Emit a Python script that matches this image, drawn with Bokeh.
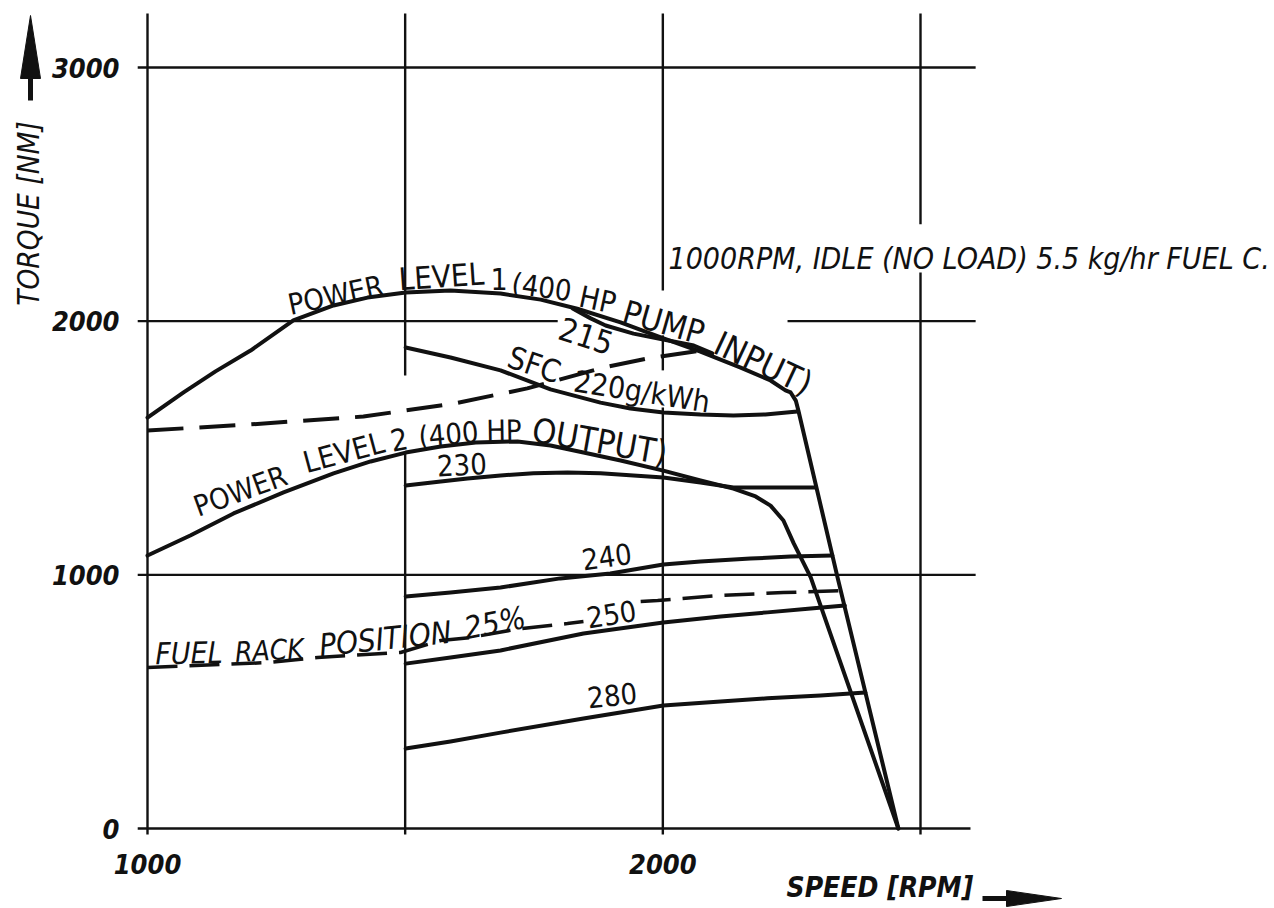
import math
from bokeh.plotting import figure
from bokeh.models import Range1d
from bokeh.core.properties import value
from bokeh.embed import file_html
from bokeh.resources import INLINE

# ---------------- data ----------------
speed_ticks = [1000, 2000]
speed_tick_labels = ["1000", "2000"]
torque_ticks = [0, 1000, 2000, 3000]
torque_tick_labels = ["0", "1000", "2000", "3000"]

# Power level 1 (400 HP pump input) - full load envelope incl. governor droop
pl1_speed = [1000, 1070, 1132, 1200, 1283, 1361, 1427, 1501, 1588, 1685, 1763, 1834,
             1918, 1996, 2073, 2151, 2209, 2238, 2248, 2258, 2263, 2339, 2457]
pl1_torque = [1620, 1719, 1802, 1884, 2003, 2062, 2093, 2113, 2121, 2109, 2085, 2049,
              1995, 1936, 1880, 1817, 1766, 1727, 1719, 1687, 1648, 990, 0]

# Power level 2 (400 HP output)
pl2_speed = [1000, 1083, 1167, 1264, 1361, 1433, 1501, 1569, 1637, 1718, 1782, 1846,
             1918, 2001, 2073, 2137, 2180, 2209, 2234, 2254, 2287, 2457]
pl2_torque = [1076, 1155, 1242, 1325, 1400, 1447, 1482, 1506, 1522, 1526, 1510, 1482,
              1451, 1411, 1372, 1340, 1309, 1273, 1214, 1124, 990, 0]

# iso specific-fuel-consumption lines (g/kWh)
sfc215_speed = [1825, 1860, 1889, 1943, 2001, 2060, 2096]
sfc215_torque = [2050, 2011, 1983, 1951, 1928, 1904, 1873]

sfc220_speed = [1501, 1588, 1685, 1782, 1879, 1937, 2001, 2073, 2137, 2199, 2261]
sfc220_torque = [1896, 1857, 1806, 1731, 1679, 1656, 1640, 1632, 1628, 1632, 1644]

sfc230_speed = [1501, 1569, 1621, 1685, 1749, 1815, 1879, 1943, 2001, 2073, 2137, 2209, 2296]
sfc230_torque = [1352, 1368, 1380, 1392, 1400, 1403, 1400, 1392, 1384, 1364, 1344, 1344, 1344]

sfc240_speed = [1501, 1588, 1685, 1801, 1898, 2001, 2073, 2170, 2248, 2329]
sfc240_torque = [915, 930, 950, 986, 1005, 1041, 1053, 1064, 1072, 1076]

sfc250_speed = [1501, 1588, 1685, 1846, 2001, 2112, 2203, 2287, 2353]
sfc250_torque = [650, 674, 702, 769, 812, 836, 852, 867, 879]

sfc280_speed = [1501, 1588, 1685, 1846, 2001, 2112, 2203, 2306, 2393]
sfc280_torque = [315, 343, 378, 434, 485, 501, 513, 524, 536]

# dashed lines: upper (full rack) and fuel rack position 25 %
dash_hi_speed = [1000, 1200, 1419, 1594, 1737, 1885, 1970, 2087]
dash_hi_torque = [1569, 1593, 1624, 1675, 1735, 1817, 1853, 1888]

dash_lo_speed = [1000, 1151, 1233, 1330, 1491, 1569, 1627, 1714, 1815, 1846,
                 float("nan"), 1957, 1990, 2112, 2234, 2345]
dash_lo_torque = [635, 647, 654, 674, 694, 741, 753, 785, 808, 816,
                  float("nan"), 895, 899, 919, 930, 938]

# hand-drawn grid (broken where lettering crosses it)
grid_v_x = [1000, 1500, 1500, 2000, 2000, 2000, 2500, 2500]
grid_v_y0 = [3213, 3213, 1482, 3213, 1944, 1660, 3213, 2192]
grid_v_y1 = [-24, 1786, -24, 2121, 1806, -24, 2382, -24]
grid_h_y = [3000, 2000, 2000, 1000, 0]
grid_h_x0 = [981, 981, 2242, 981, 981]
grid_h_x1 = [2607, 1796, 2607, 2607, 2597]

# ---------------- page geometry ----------------
W, H = 1274, 908
PX_X0, PX_X1 = 147.0, 920.0   # pixel columns of 1000 and 2500 rpm
PX_Y0, PX_Y1 = 828.0, 67.0    # pixel rows of 0 and 3000 Nm
sx = (PX_X1 - PX_X0) / 1500.0
sy = (PX_Y0 - PX_Y1) / 3000.0
x_start = 1000.0 - PX_X0 / sx
x_end = x_start + W / sx
y_end = PX_Y0 / sy
y_start = y_end - H / sy


def X(px):
    return x_start + px / sx


def Y(py):
    return y_end - py / sy


FONT = "DejaVu Sans Condensed, Roboto, sans-serif"
INK = "#111111"

p = figure(width=W, height=H, x_range=Range1d(x_start, x_end), y_range=Range1d(y_start, y_end),
           output_backend="svg", toolbar_location=None, min_border=0,
           x_axis_type=None, y_axis_type=None)
p.outline_line_color = None
p.background_fill_color = "white"
p.border_fill_color = "white"

# grid
p.segment(x0=grid_v_x, y0=grid_v_y0, x1=grid_v_x, y1=grid_v_y1, line_color=INK, line_width=2.4)
p.segment(x0=grid_h_x0, y0=grid_h_y, x1=grid_h_x1, y1=grid_h_y, line_color=INK, line_width=2.4)

# curves
solid = dict(line_color=INK, line_width=4, line_join="round", line_cap="round")
p.line(pl1_speed, pl1_torque, **solid)
p.line(pl2_speed, pl2_torque, **solid)
p.line(sfc215_speed, sfc215_torque, **solid)
p.line(sfc220_speed, sfc220_torque, **solid)
p.line(sfc230_speed, sfc230_torque, **solid)
p.line(sfc240_speed, sfc240_torque, **solid)
p.line(sfc250_speed, sfc250_torque, **solid)
p.line(sfc280_speed, sfc280_torque, **solid)
p.line(dash_hi_speed, dash_hi_torque, line_color=INK, line_width=4, line_dash="36 16")
p.line(dash_lo_speed, dash_lo_torque, line_color=INK, line_width=3.5, line_dash="30 12")


def words(items, style="normal"):
    """items: (text, baseline-left x px, baseline-left y px, angle deg, size px)"""
    for (t, px, py, ang, size) in items:
        a = math.radians(ang)
        h = 0.36 * size
        mx = px - h * math.sin(a)
        my = py - h * math.cos(a)
        p.text(x=[X(mx)], y=[Y(my)], text=[t], angle=ang, angle_units="deg",
               text_font=value(FONT), text_font_size=f"{size}px", text_font_style=style,
               text_align="left", text_baseline="middle", text_color=INK)


# curve labels
words([("POWER", 290, 315, 12, 29), ("LEVEL", 399, 290, 4, 31), ("1", 490, 289, 0, 30),
       ("(400", 510, 293, -8, 29), ("HP", 577, 306, -12, 30), ("PUMP", 620, 322, -16, 33),
       ("INPUT)", 711, 352, -25, 34)])
words([("POWER", 198, 517, 20, 29), ("LEVEL", 306, 473, 15, 30), ("2", 392, 451, 10, 30),
       ("(400", 419, 447, 5, 29), ("HP", 486, 441, 1, 29), ("OUTPUT)", 530, 441, -10, 34)])
words([("SFC", 505, 366, -19, 31), ("220g/kWh", 572, 391, -9, 30)])
words([("215", 556, 338, -18, 32), ("230", 437, 476, 3, 29), ("240", 583, 570, 8, 29),
       ("250", 588, 628, 9, 29), ("280", 588, 708, 6, 29)])
words([("FUEL", 155, 664, 1, 30), ("RACK", 235, 662, 3, 28), ("POSITION", 320, 656, 6, 31),
       ("25%", 466, 639, 11, 31)], "italic")
words([("1000RPM, IDLE (NO LOAD) 5.5 kg/hr  FUEL C.", 668, 269, 0, 30)], "italic")
words([("SPEED [RPM]", 786, 897, 0, 28)], "bold italic")

# y axis title
p.text(x=[X(28)], y=[Y(213)], text=["TORQUE [NM]"], angle=90, angle_units="deg",
       text_font=value(FONT), text_font_size="29.5px", text_font_style="italic",
       text_align="center", text_baseline="middle", text_color=INK)

# tick labels
p.text(x=[1000] * len(torque_ticks), y=torque_ticks, text=torque_tick_labels,
       x_offset=-28, text_font=value(FONT), text_font_size="27px", text_font_style="bold italic",
       text_align="right", text_baseline="middle", text_color=INK)
p.text(x=speed_ticks, y=[0] * len(speed_ticks), text=speed_tick_labels,
       y_offset=35, text_font=value(FONT), text_font_size="27px", text_font_style="bold italic",
       text_align="center", text_baseline="middle", text_color=INK)

# axis arrows
p.patch([X(30), X(20), X(40)], [Y(15), Y(78), Y(78)], fill_color=INK, line_color=INK, line_width=1)
p.line([X(30), X(30)], [Y(76), Y(100)], line_color=INK, line_width=5)
p.patch([X(1006), X(1006), X(1061)], [Y(890), Y(906), Y(898)], fill_color=INK, line_color=INK, line_width=1)
p.line([X(982), X(1010)], [Y(898), Y(898)], line_color=INK, line_width=5)

open("out.html", "w").write(file_html(p, INLINE))
